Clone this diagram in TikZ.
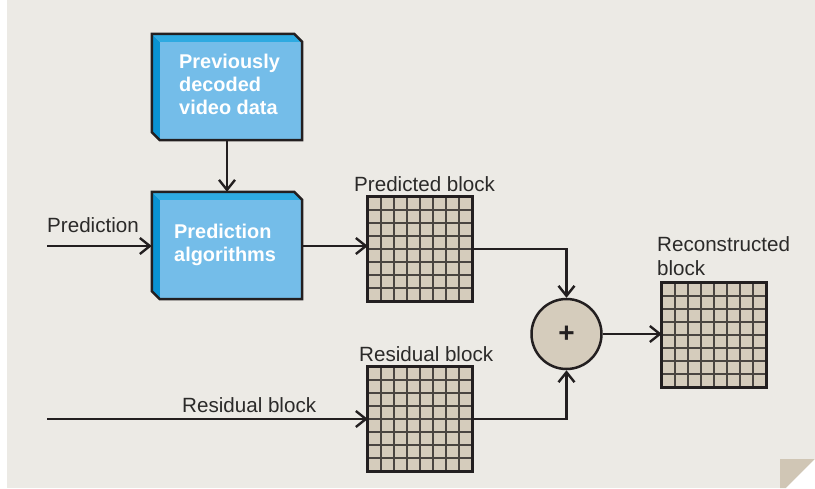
\documentclass[tikz,border=0pt]{standalone}
\usepackage{fontspec}
\setmainfont{Liberation Sans}
\usetikzlibrary{arrows.meta,calc}
\definecolor{bgc}{HTML}{ECEAE5}
\definecolor{linec}{HTML}{231F20}
\definecolor{labelc}{HTML}{2B2A29}
\definecolor{tanc}{HTML}{D5CCBC}
\definecolor{gridl}{HTML}{4A4541}
\definecolor{bleft}{HTML}{0A93D3}
\definecolor{btop}{HTML}{2EAAE1}
\definecolor{bface}{HTML}{74BDE9}
\definecolor{foldc}{HTML}{D0C6B5}
\tikzset{
  lbl/.style={text=labelc, font=\fontsize{20.6}{24}\selectfont, inner sep=0pt, anchor=base west},
  btxt/.style={text=white, font=\bfseries\fontsize{19.9}{23.3}\selectfont, align=left, inner sep=0pt, anchor=north west},
  arr/.style={draw=linec, line width=2.4pt, -{Straight Barb[length=10pt,width=16pt,line width=2.4pt]}},
  blockbox/.style={draw=none, minimum width=150pt, minimum height=106pt, inner sep=0pt},
  gridbox/.style={fill=tanc, draw=none, minimum width=104pt, minimum height=104pt, inner sep=0pt},
  sumc/.style={circle, fill=tanc, draw=linec, line width=2.5pt, minimum size=70pt, inner sep=0pt, font=\bfseries\fontsize{28}{28}\selectfont, text=linec},
}
\newcommand{\boxthreed}[1]{%
  \fill[btop] (#1.north west) -- ($(#1.north east)+(-8,0)$) -- ($(#1.north east)+(0,8)$) -- ($(#1.north west)+(8,8)$) -- cycle;
  \fill[bleft] (#1.north west) -- ($(#1.north west)+(8,8)$) -- ($(#1.south west)+(8,0)$) -- ($(#1.south west)+(0,-8)$) -- cycle;
  \fill[bface] ($(#1.north west)+(8,8)$) -- ($(#1.north east)+(0,8)$) -- (#1.south east) -- ($(#1.south west)+(8,0)$) -- cycle;
  \draw[linec, line width=2.5pt, line join=miter] (#1.north west) -- ($(#1.north east)+(-8,0)$) -- ($(#1.north east)+(0,8)$) -- (#1.south east) -- ($(#1.south west)+(8,0)$) -- ($(#1.south west)+(0,-8)$) -- cycle;
}
\newcommand{\gridlines}[1]{%
  \foreach \i in {1,...,7}{
    \draw[gridl, line width=2pt] ($(#1.north west)!\i/8!(#1.north east)$) -- ($(#1.south west)!\i/8!(#1.south east)$);
    \draw[gridl, line width=2pt] ($(#1.north west)!\i/8!(#1.south west)$) -- ($(#1.north east)!\i/8!(#1.south east)$);
  }
  \draw[linec, line width=3pt] (#1.north west) rectangle (#1.south east);
}
\begin{document}
\begin{tikzpicture}[x=1pt,y=-1pt]
\useasboundingbox (0,0) rectangle (815,488);
\fill[white] (0,0) rectangle (815,488);
\fill[bgc] (7,0) rectangle (815,488);
% folded corner
\fill[foldc] (780,459) -- (815,459) -- (786,488) -- (780,488) -- cycle;
\fill[white] (815,459) -- (815,488) -- (786,488) -- cycle;

% blue boxes
\node[blockbox] (prev) at (227,87) {};
\boxthreed{prev}
\node[btxt] (prevt) at (179,53.5) {Previously\\decoded\\video data};
\node[blockbox, minimum height=107pt] (pred) at (227,245.5) {};
\boxthreed{pred}
\node[btxt] (predt) at (174,223.5) {Prediction\\algorithms};

% grids
\node[gridbox] (pb) at (420,249) {};
\gridlines{pb}
\node[gridbox] (rb) at (420,419) {};
\gridlines{rb}
\node[gridbox] (rc) at (714,335) {};
\gridlines{rc}

% sum
\node[sumc] (sum) at (566.5,334) {+};

% labels
\node[lbl] (lpred) at (47,232) {Prediction};
\node[lbl] (lres) at (182,412) {Residual block};
\node[lbl] (lpb) at (354,191) {Predicted block};
\node[lbl] (lrb) at (359,361) {Residual block};
\node[lbl, align=left, anchor=north west] (lrc) at (657,236.5) {Reconstructed\\block};

% connectors
\coordinate (pin) at (47,246);
\coordinate (rin) at (47,419);
\draw[arr] (prev.south) -- (pred.north);
\draw[arr] (pin) -- (pin -| pred.west);
\draw[arr] (pred.east |- pin) -- (pin -| pb.west);
\draw[arr] (pb.east) -| (sum.north);
\draw[arr] (rin) -- (rin -| rb.west);
\draw[arr] (rb.east) -| (sum.south);
\draw[arr] (sum.east) -- (sum.east -| rc.west);
\end{tikzpicture}
\end{document}
